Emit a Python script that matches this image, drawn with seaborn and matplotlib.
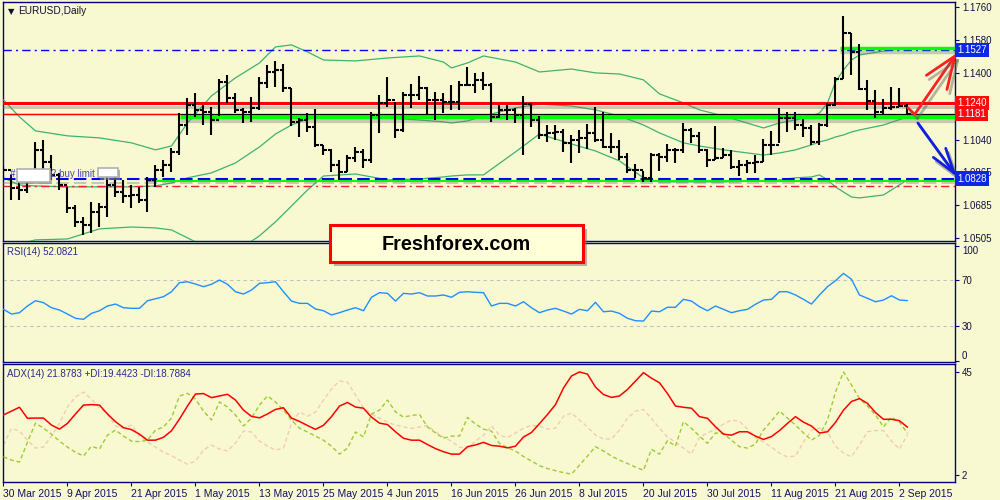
import matplotlib
matplotlib.use("Agg")
import matplotlib.pyplot as plt
import matplotlib.patheffects as pe
from matplotlib.patches import FancyBboxPatch, Rectangle
import numpy as np
import seaborn as sns

sns.set_style("white")
plt.rcParams['font.family'] = ['Liberation Sans', 'DejaVu Sans']

# ---------------- data ----------------
date_labels = ["30 Mar 2015", "9 Apr 2015", "21 Apr 2015", "1 May 2015", "13 May 2015",
               "25 May 2015", "4 Jun 2015", "16 Jun 2015", "26 Jun 2015", "8 Jul 2015",
               "20 Jul 2015", "30 Jul 2015", "11 Aug 2015", "21 Aug 2015", "2 Sep 2015"]
date_bars = [0, 8, 16, 24, 32, 40, 48, 56, 64, 72, 80, 88, 96, 104, 112]

first_open = 1.0870
bar_high = [1.0897, 1.0848, 1.0821, 1.0859, 1.1027, 1.1038, 1.0956, 1.0859, 1.0783, 1.0685,
            1.0620, 1.0701, 1.0696, 1.0837, 1.0837, 1.0821, 1.0793, 1.0783, 1.0837, 1.0902,
            1.0929, 1.0994, 1.1184, 1.1266, 1.1293, 1.1228, 1.1217, 1.1369, 1.1391, 1.1293,
            1.1212, 1.1271, 1.1380, 1.1445, 1.1467, 1.1451, 1.1320, 1.1157, 1.1184, 1.1206,
            1.1011, 1.0989, 1.0929, 1.0956, 1.1000, 1.0989, 1.1190, 1.1282, 1.1380, 1.1244,
            1.1298, 1.1342, 1.1385, 1.1326, 1.1298, 1.1293, 1.1336, 1.1358, 1.1434, 1.1402,
            1.1407, 1.1347, 1.1228, 1.1228, 1.1212, 1.1277, 1.1239, 1.1168, 1.1119, 1.1119,
            1.1098, 1.1065, 1.1092, 1.1125, 1.1217, 1.1190, 1.1076, 1.1038, 1.0967, 1.0908,
            1.0870, 1.0967, 1.0967, 1.1016, 1.0994, 1.1130, 1.1103, 1.1081, 1.0989, 1.1114,
            1.0994, 1.0984, 1.0929, 1.0929, 1.0956, 1.1043, 1.1087, 1.1212, 1.1190, 1.1190,
            1.1152, 1.1119, 1.1130, 1.1239, 1.1380, 1.1711, 1.1619, 1.1559, 1.1364, 1.1309,
            1.1260, 1.1326, 1.1320, 1.1233]
bar_low = [1.0832, 1.0712, 1.0712, 1.0750, 1.0859, 1.0875, 1.0821, 1.0766, 1.0641, 1.0565,
           1.0522, 1.0533, 1.0565, 1.0620, 1.0728, 1.0696, 1.0669, 1.0696, 1.0647, 1.0783,
           1.0837, 1.0864, 1.0956, 1.1065, 1.1163, 1.1119, 1.1065, 1.1168, 1.1239, 1.1184,
           1.1130, 1.1136, 1.1201, 1.1320, 1.1326, 1.1298, 1.1114, 1.1054, 1.1081, 1.1000,
           1.0956, 1.0864, 1.0821, 1.0864, 1.0918, 1.0886, 1.0913, 1.1076, 1.1217, 1.1049,
           1.1081, 1.1212, 1.1255, 1.1179, 1.1146, 1.1184, 1.1201, 1.1201, 1.1331, 1.1293,
           1.1309, 1.1136, 1.1157, 1.1146, 1.1130, 1.0956, 1.1108, 1.1043, 1.1027, 1.1038,
           1.0973, 1.0913, 1.0967, 1.0989, 1.1027, 1.0994, 1.0967, 1.0929, 1.0859, 1.0832,
           1.0810, 1.0810, 1.0870, 1.0918, 1.0913, 1.0967, 1.1022, 1.0967, 1.0891, 1.0929,
           1.0940, 1.0880, 1.0842, 1.0859, 1.0859, 1.0918, 1.0956, 1.1022, 1.1081, 1.1092,
           1.1054, 1.1011, 1.1011, 1.1108, 1.1222, 1.1369, 1.1391, 1.1309, 1.1201, 1.1157,
           1.1174, 1.1201, 1.1217, 1.1179]
bar_close = [1.0875, 1.0777, 1.0766, 1.0832, 1.0984, 1.0918, 1.0848, 1.0793, 1.0669, 1.0593,
             1.0576, 1.0647, 1.0674, 1.0793, 1.0755, 1.0734, 1.0739, 1.0712, 1.0821, 1.0875,
             1.0902, 1.0973, 1.1119, 1.1228, 1.1201, 1.1190, 1.1146, 1.1353, 1.1266, 1.1201,
             1.1190, 1.1212, 1.1347, 1.1407, 1.1418, 1.1320, 1.1136, 1.1146, 1.1108, 1.1011,
             1.0984, 1.0902, 1.0864, 1.0940, 1.0973, 1.0929, 1.1174, 1.1239, 1.1255, 1.1092,
             1.1282, 1.1282, 1.1320, 1.1255, 1.1255, 1.1244, 1.1244, 1.1336, 1.1336, 1.1364,
             1.1336, 1.1163, 1.1201, 1.1201, 1.1174, 1.1233, 1.1146, 1.1065, 1.1076, 1.1081,
             1.1022, 1.1038, 1.1049, 1.1076, 1.1038, 1.1000, 1.1000, 1.0946, 1.0875, 1.0875,
             1.0832, 1.0956, 1.0946, 1.0984, 1.0984, 1.1092, 1.1060, 1.0984, 1.0929, 1.0940,
             1.0956, 1.0891, 1.0902, 1.0913, 1.0918, 1.1011, 1.1011, 1.1157, 1.1157, 1.1119,
             1.1103, 1.1027, 1.1119, 1.1228, 1.1369, 1.1619, 1.1516, 1.1315, 1.1250, 1.1190,
             1.1212, 1.1217, 1.1222, 1.1181]

band_bars = [0, 2, 4, 8, 12, 16, 19, 21, 23, 26, 29, 32, 34, 36, 38, 40, 44, 48, 52, 55,
             56, 58, 60, 64, 67, 71, 74, 77, 80, 82, 85, 87, 90, 95, 97, 99, 101, 102, 103, 104,
             105, 106, 107, 110, 113]
band_upper = [1.1255, 1.1163, 1.1087, 1.1060, 1.1049, 1.1022, 1.0984, 1.1005, 1.1130, 1.1277,
              1.1375, 1.1456, 1.1543, 1.1554, 1.1516, 1.1472, 1.1467, 1.1483, 1.1494, 1.1461,
              1.1429, 1.1456, 1.1494, 1.1461, 1.1407, 1.1423, 1.1402, 1.1396, 1.1364, 1.1288,
              1.1239, 1.1201, 1.1168, 1.1103, 1.1130, 1.1146, 1.1168, 1.1184, 1.1239, 1.1353,
              1.1418, 1.1472, 1.1499, 1.1521, 1.1537]
band_mid = [1.0832, 1.0793, 1.0788, 1.0783, 1.0783, 1.0783, 1.0788, 1.0804, 1.0832, 1.0859,
            1.0913, 1.1000, 1.1070, 1.1119, 1.1152, 1.1163, 1.1168, 1.1157, 1.1146, 1.1136,
            1.1130, 1.1141, 1.1168, 1.1212, 1.1233, 1.1222, 1.1201, 1.1168, 1.1119, 1.1076,
            1.1022, 1.1005, 1.0984, 1.0956, 1.0967, 1.0984, 1.1011, 1.1027, 1.1038, 1.1054,
            1.1065, 1.1081, 1.1092, 1.1119, 1.1163]
band_lower = [1.0441, 1.0473, 1.0495, 1.0500, 1.0555, 1.0565, 1.0560, 1.0549, 1.0506, 1.0441,
              1.0430, 1.0517, 1.0593, 1.0679, 1.0766, 1.0842, 1.0853, 1.0821, 1.0826, 1.0837,
              1.0842, 1.0848, 1.0848, 1.0973, 1.1070, 1.1016, 1.0978, 1.0924, 1.0832, 1.0810,
              1.0810, 1.0810, 1.0810, 1.0815, 1.0821, 1.0832, 1.0837, 1.0848, 1.0821, 1.0783,
              1.0755, 1.0728, 1.0723, 1.0739, 1.0821]

rsi = [44.5, 40.4, 41.6, 47.4, 52.0, 50.3, 45.9, 43.9, 40.4, 36.7,
       35.8, 41.0, 43.3, 47.4, 49.1, 45.9, 45.4, 45.4, 52.0, 53.7,
       55.5, 59.8, 67.7, 68.5, 66.5, 64.2, 66.3, 70.0, 66.3, 59.8,
       57.8, 61.3, 67.1, 67.7, 68.5, 59.8, 51.7, 49.7, 49.7, 44.8,
       43.3, 39.6, 41.6, 43.9, 45.9, 43.3, 55.0, 59.0, 58.4, 51.7,
       58.4, 57.8, 59.0, 56.1, 56.1, 57.0, 55.0, 59.3, 59.8, 59.3,
       59.0, 47.4, 49.7, 49.7, 47.4, 51.1, 45.9, 41.6, 43.9, 45.4,
       43.0, 40.4, 44.5, 43.3, 50.6, 42.4, 43.0, 41.0, 36.7, 34.6,
       34.3, 43.0, 42.4, 46.3, 46.3, 53.2, 51.7, 46.8, 43.3, 47.4,
       44.5, 41.6, 43.3, 44.5, 48.9, 52.6, 53.2, 59.8, 59.8, 57.0,
       53.2, 49.1, 57.0, 64.2, 69.4, 75.8, 70.6, 57.0, 54.1, 51.1,
       52.6, 56.3, 52.6, 52.1]

adx = [27.0, 28.6, 30.2, 25.6, 25.7, 25.7, 22.8, 21.1, 23.5, 27.4,
       31.1, 31.3, 31.1, 27.4, 24.2, 21.7, 20.9, 19.0, 16.5, 16.5,
       17.7, 20.4, 25.3, 30.7, 35.7, 35.9, 34.2, 34.9, 35.6, 33.2,
       29.0, 26.4, 25.8, 27.4, 29.3, 30.0, 25.7, 24.3, 22.6, 21.0,
       22.7, 26.3, 30.7, 32.2, 30.3, 29.8, 26.1, 23.6, 23.0, 20.0,
       17.3, 16.5, 16.5, 14.7, 13.0, 11.7, 10.7, 10.7, 13.8, 14.5,
       15.6, 14.3, 14.0, 13.3, 14.0, 17.8, 19.7, 23.4, 27.2, 31.3,
       38.2, 43.2, 44.9, 44.0, 38.6, 35.5, 34.3, 34.9, 37.6, 41.1,
       44.6, 42.3, 40.4, 35.9, 30.7, 30.2, 29.8, 26.3, 25.6, 22.1,
       19.0, 18.6, 20.0, 20.0, 18.2, 16.8, 18.0, 20.5, 23.5, 26.3,
       24.0, 22.4, 19.5, 20.0, 23.9, 29.0, 32.6, 33.8, 31.8, 28.0,
       25.2, 25.2, 24.6, 21.9]
plus_di = [9.6, 8.2, 7.4, 15.7, 23.6, 21.5, 19.0, 16.1, 13.6, 11.5,
           9.9, 14.0, 12.8, 18.6, 20.7, 18.2, 16.1, 15.9, 16.5, 20.7,
           22.0, 25.7, 34.9, 36.0, 33.6, 28.6, 24.9, 32.4, 30.3, 27.0,
           22.4, 25.7, 31.1, 34.9, 32.4, 29.0, 24.9, 21.5, 19.9, 18.2,
           16.5, 14.0, 10.7, 13.2, 19.9, 17.9, 27.4, 29.0, 33.2, 28.3,
           26.1, 26.8, 27.2, 22.0, 19.5, 17.3, 18.2, 18.2, 26.0, 23.2,
           21.1, 20.3, 15.1, 13.4, 12.0, 9.7, 7.8, 5.9, 4.7, 3.8,
           3.0, 2.4, 6.1, 9.9, 13.8, 12.0, 9.9, 8.2, 6.8, 5.3,
           4.0, 12.7, 10.7, 16.3, 14.0, 24.2, 21.4, 18.2, 15.2, 19.5,
           19.3, 16.5, 13.8, 13.2, 14.9, 20.7, 24.5, 28.6, 25.7, 22.8,
           19.5, 16.5, 18.6, 24.9, 36.5, 44.9, 39.5, 33.8, 30.7, 27.0,
           22.0, 26.1, 24.0, 19.4]
minus_di = [14.5, 21.4, 20.3, 16.5, 13.2, 13.6, 18.2, 23.6, 30.3, 34.5,
            36.5, 33.6, 29.9, 27.4, 22.4, 21.5, 22.8, 18.2, 15.7, 13.6,
            11.5, 10.1, 8.2, 6.5, 7.8, 12.4, 14.5, 12.8, 12.0, 15.3,
            20.3, 19.9, 16.1, 14.0, 12.4, 13.2, 23.6, 28.2, 26.5, 28.2,
            33.2, 37.8, 41.1, 40.7, 35.3, 29.9, 27.4, 25.7, 24.0, 22.8,
            22.0, 21.4, 22.0, 22.6, 19.9, 17.8, 16.1, 13.6, 13.2, 16.1,
            18.6, 22.4, 18.6, 17.6, 19.5, 21.5, 22.6, 22.4, 21.1, 21.5,
            26.5, 27.8, 24.9, 22.0, 18.6, 17.0, 17.0, 20.7, 25.7, 28.6,
            29.3, 25.5, 21.5, 17.8, 15.7, 13.2, 10.7, 17.8, 19.5, 21.1,
            23.2, 24.9, 24.3, 21.1, 17.6, 15.7, 13.6, 11.1, 9.5, 9.9,
            15.7, 20.7, 21.5, 19.9, 14.0, 11.1, 9.6, 14.5, 20.0, 20.5,
            20.5, 16.1, 12.8, 18.8]

price_ticks = [1.0505, 1.0685, 1.0865, 1.1040, 1.1220, 1.1400, 1.1580, 1.1760]
hidden_price_ticks = [1.1220]   # covered by the red price boxes in the original
rsi_ticks = [0, 30, 70, 100]
rsi_levels = [70, 30]
adx_ticks = [2, 45]

level_top = 1.1527          # blue dash-dot target
level_top_zone = 1.1537     # green zone at top
zone_top_start = 104.6
level_resist = 1.1240       # red
level_bid = 1.1181          # current price
level_zone = 1.1170         # thick green zone
zone_start = 22.1
level_support = 1.0828      # blue dashed
level_support_zone = 1.0815
support_zone_start = 17.9
level_low = 1.0785          # red dash-dot

arrow_up_pre = ([113.06, 113.9], [1.1212, 1.1177])
arrow_up = ((113.9, 1.1177), (119.19, 1.1510))
arrow_down = ((114.3, 1.1130), (119.19, 1.0837))

# ---------------- figure ----------------
BG = '#F9F9D1'
NAVY = '#000080'
XMIN, XMAX = -0.06, 118.94
fig = plt.figure(figsize=(10, 5), dpi=100)
fig.patch.set_facecolor(BG)


def panel(left, top, right, bottom):
    ax = fig.add_axes([left / 1000, 1 - bottom / 500, (right - left) / 1000, (bottom - top) / 500])
    ax.set_facecolor(BG)
    for s in ax.spines.values():
        s.set_color(NAVY)
        s.set_linewidth(1.0)
    ax.set_xlim(XMIN, XMAX)
    ax.yaxis.tick_right()
    ax.tick_params(axis='y', which='both', right=True, left=False, length=3, width=0.8,
                   color=NAVY, labelsize=7, labelcolor='#101040', pad=2)
    ax.tick_params(axis='x', bottom=False, labelbottom=False)
    ax.grid(False)
    return ax


ax = panel(3, 2, 955, 241)
ax_rsi = panel(3, 243, 955, 362)
ax_adx = panel(3, 364, 955, 482)

shadow = [pe.SimpleLineShadow(offset=(0, -3), shadow_color='#707070', alpha=0.35), pe.Normal()]

# ----- main price panel -----
ax.set_ylim(1.0489, 1.1787)
ax.set_yticks(price_ticks)
ax.set_yticklabels(["" if p in hidden_price_ticks else f"{p:.4f}" for p in price_ticks])

for vals in (band_upper, band_mid, band_lower):
    sns.lineplot(x=band_bars, y=vals, ax=ax, color='#3CB371', linewidth=0.9,
                 legend=False, errorbar=None, zorder=3)

ax.axhline(level_top, color='#0000FF', lw=1.0, ls=(0, (6, 3, 1.5, 3)), zorder=4)
ax.hlines(level_top_zone, zone_top_start, XMAX, color='#00FF00', lw=2.5, zorder=4, path_effects=shadow)
ax.axhline(level_resist, color='#FF0000', lw=2.2, zorder=4, path_effects=shadow)
ax.hlines(level_zone, zone_start, XMAX, color='#00FF00', lw=3.8, zorder=4, path_effects=shadow)
ax.axhline(level_bid, color='black', lw=0.8, zorder=4.5)
ax.hlines(level_bid, XMIN, zone_start, color='#FF0000', lw=1.0, zorder=4.6)
ax.axhline(level_support, color='#0000FF', lw=1.5, ls=(0, (6, 2.5)), zorder=4.5, path_effects=shadow)
ax.hlines(level_support_zone, support_zone_start, XMAX, color='#00FF00', lw=1.5, zorder=4.4)
ax.axhline(level_low, color='#E8203A', lw=1.0, ls=(0, (6, 3, 1.5, 3)), zorder=4)

idx = np.arange(len(bar_high))
bar_open = [first_open] + bar_close[:-1]
ax.vlines(idx, bar_low, bar_high, color='black', lw=1.5, zorder=6)
ax.hlines(bar_open, idx - 0.42, idx, color='black', lw=1.5, zorder=6)
ax.hlines(bar_close, idx, idx + 0.42, color='black', lw=1.5, zorder=6)

# arrows
arrow_shadow = [pe.SimpleLineShadow(offset=(2, -3), shadow_color='#606060', alpha=0.45), pe.Normal()]
ax.plot(arrow_up_pre[0], arrow_up_pre[1], color='#FF2020', lw=2.0, zorder=8,
        solid_capstyle='round', path_effects=arrow_shadow, clip_on=False)
ax.annotate('', xy=arrow_up[1], xytext=arrow_up[0], annotation_clip=False, zorder=8,
            arrowprops=dict(arrowstyle='->,head_length=2.3,head_width=0.9', color='#FF2020', lw=2.0,
                            shrinkA=0, shrinkB=0, clip_on=False, path_effects=arrow_shadow))
ax.annotate('', xy=arrow_down[1], xytext=arrow_down[0], annotation_clip=False, zorder=8,
            arrowprops=dict(arrowstyle='->,head_length=1.8,head_width=0.55', color='#1020E0', lw=2.0,
                            shrinkA=0, shrinkB=0, clip_on=False, path_effects=arrow_shadow))

# price label boxes on the right scale
def price_box(value, fc):
    ax.text(1.002, value, f"{value:.4f}", transform=ax.get_yaxis_transform(), ha='left', va='center',
            fontsize=7, color='white', clip_on=False, zorder=10,
            bbox=dict(boxstyle='square,pad=0.22', fc=fc, ec='none'))

price_box(level_top, '#0A28E6')
price_box(level_resist, '#FF0A0A')
price_box(level_bid, '#FF0A0A')
price_box(level_support, '#0A28E6')

# header
ax.text(0.005, 0.962, "\u25BC", transform=ax.transAxes, fontsize=6, color='#101030',
        va='center', ha='left', family=['DejaVu Sans'])
ax.text(0.0158, 0.962, "EURUSD,Daily", transform=ax.transAxes, fontsize=7.3, color='#101030',
        va='center', ha='left')

# pending-order label
ax.text(0.8, 1.0852, "#", fontsize=7, color='#3838A8', va='center', zorder=9)
box_shadow = [pe.SimplePatchShadow(offset=(1.5, -1.5), shadow_rgbFace='#808080', alpha=0.6), pe.Normal()]
ax.add_patch(Rectangle((1.7, 1.0812), 4.1, 0.0068, fc='white', ec='#B0B0B0', lw=1.2, zorder=9,
                       path_effects=box_shadow))
ax.text(6.0, 1.0852, "2 buy limit", fontsize=7, color='#4848B0', va='center', zorder=9.5)
ax.add_patch(Rectangle((11.8, 1.0834), 2.5, 0.0052, fc='white', ec='#B0B0B0', lw=1.2, zorder=9,
                       path_effects=box_shadow))

# ----- RSI panel -----
ax_rsi.set_ylim(-1.3, 102.2)
for lv in rsi_levels:
    ax_rsi.axhline(lv, color='#C0C0C0', lw=0.8, ls=(0, (3, 3)), zorder=2)
sns.lineplot(x=idx, y=rsi, ax=ax_rsi, color='#1E90FF', linewidth=1.0, legend=False,
             errorbar=None, zorder=3)
ax_rsi.set_yticks(rsi_ticks)
ax_rsi.set_yticklabels([str(t) for t in rsi_ticks])
# MetaTrader keeps the end labels inside the panel
for lbl, t in zip(ax_rsi.get_yticklabels(), rsi_ticks):
    if t == max(rsi_ticks):
        lbl.set_va('top')
    elif t == min(rsi_ticks):
        lbl.set_va('bottom')
ax_rsi.text(0.004, 0.925, "RSI(14) 52.0821", transform=ax_rsi.transAxes, fontsize=7,
            color='#2B2B8C', va='center', ha='left')

# ----- ADX panel -----
ax_adx.set_ylim(-0.9, 48.2)
sns.lineplot(x=idx, y=minus_di, ax=ax_adx, color='#F2CCAE', linewidth=1.0, linestyle=(0, (3, 2)),
             legend=False, errorbar=None, zorder=2)
sns.lineplot(x=idx, y=plus_di, ax=ax_adx, color='#9ACD32', linewidth=1.0, linestyle=(0, (3, 2)),
             legend=False, errorbar=None, zorder=3)
sns.lineplot(x=idx, y=adx, ax=ax_adx, color='#FF0000', linewidth=1.1, legend=False,
             errorbar=None, zorder=4)
ax_adx.set_yticks(adx_ticks)
ax_adx.set_yticklabels([str(t) for t in adx_ticks])
ax_adx.text(0.004, 0.915, "ADX(14) 21.8783 +DI:19.4423 -DI:18.7884", transform=ax_adx.transAxes,
            fontsize=7, color='#2B2B8C', va='center', ha='left')

ax_adx.set_xticks(date_bars)
ax_adx.set_xticklabels(date_labels, ha='left')
ax_adx.tick_params(axis='x', bottom=True, labelbottom=True, length=3, width=0.8, color=NAVY,
                   labelsize=7.5, labelcolor='#10106A', pad=2)

for a in (ax, ax_rsi, ax_adx):
    a.set_xlabel('')
    a.set_ylabel('')
    a.set_xlim(XMIN, XMAX)

# ----- Freshforex banner -----
banner = FancyBboxPatch((0.330, 0.476), 0.253, 0.074, boxstyle='square,pad=0',
                        transform=fig.transFigure, fc='#FFFFD8', ec='#FF0000', lw=2.2, zorder=20,
                        path_effects=[pe.SimplePatchShadow(offset=(3, -3), shadow_rgbFace='#707070',
                                                           alpha=0.5), pe.Normal()])
fig.add_artist(banner)
fig.text(0.4565, 0.512, "Freshforex.com", fontsize=14.3, fontweight='bold', color='black',
         ha='center', va='center', zorder=21)

fig.savefig('out.png', dpi=100, facecolor=BG)
